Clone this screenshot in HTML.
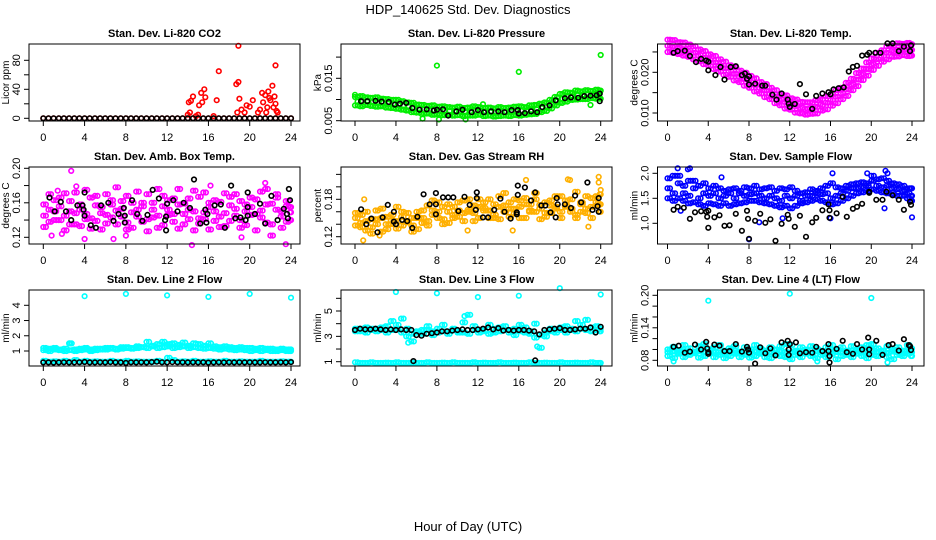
<!DOCTYPE html>
<html><head><meta charset="utf-8"><style>
html,body{margin:0;padding:0;background:#fff;}
svg{display:block;font-family:"Liberation Sans",sans-serif;}
</style></head><body>
<svg id="chart" width="936" height="540" viewBox="0 0 936 540" xmlns="http://www.w3.org/2000/svg">
<rect x="0" y="0" width="936" height="540" fill="#fff"/>
<text x="468" y="14" text-anchor="middle" font-size="13">HDP_140625  Std. Dev. Diagnostics</text>
<text x="468" y="531" text-anchor="middle" font-size="13">Hour of Day (UTC)</text>
</svg>
<script>
const hourGrid=[0,0.5,1,1.5,2,2.5,3,3.5,4,4.5,5,5.5,6,6.5,7,7.5,8,8.5,9,9.5,10,10.5,11,11.5,12,12.5,13,13.5,14,14.5,15,15.5,16,16.5,17,17.5,18,18.5,19,19.5,20,20.5,21,21.5,22,22.5,23,23.5,24];
const hourGridB=[0.25,0.75,1.25,1.75,2.25,2.75,3.25,3.75,4.25,4.75,5.25,5.75,6.25,6.75,7.25,7.75,8.25,8.75,9.25,9.75,10.25,10.75,11.25,11.75,12.25,12.75,13.25,13.75,14.25,14.75,15.25,15.75,16.25,16.75,17.25,17.75,18.25,18.75,19.25,19.75,20.25,20.75,21.25,21.75,22.25,22.75,23.25,23.75,23.9];
const xTicks=[0,4,8,12,16,20,24];
// P1 CO2
const co2Base=[0,0,0,0,0,0,0,0,0,0,0,0,0,0,0,0,0,0,0,0,0,0,0,0,0,0,0,0,0,0,0,0,0,0,0,0,0,0,0,0,0,0,0,0,0,0,0,0,0];
const co2BlackV=[0,0,0,0,0,0,0,0,0,0,0,0,0,0,0,0,0,0,0,0,0,0,0,0,0,0,0,0,0,0,0,0,0,0,0,0,0,0,0,0,0,0,0,0,0,0,0,0,0];
const co2SpikeH=[14,14.1,14.3,14.5,14.2,15,15.1,15.3,15.4,15.6,15.7,16.8,17,18.7,18.9,18.9,19,18.8,19.2,19.5,19.7,20,20.3,20.8,21,21.2,21.3,21.5,21.7,21.9,21.8,22,22.2,22.4,22.5,22.5,22.6,22.3,21.6,22.7,16.5,14.8];
const co2SpikeV=[5,22,24,30,8,5,18,35,22,40,29,25,65,47,50,100,27,8,12,8,18,16,25,8,12,35,22,32,15,28,37,25,45,30,73,20,10,15,8,8,3,3];
// P2 pressure (x1e-3 kPa)
const presMid=[9.5,9.6,9.6,9.5,9.4,9.3,9.2,9.0,8.8,8.6,8.4,8.1,7.9,7.7,7.6,7.5,7.5,7.4,7.3,7.3,7.2,7.2,7.2,7.3,7.3,7.2,7.1,7.1,7.1,7.1,7.2,7.3,7.3,7.4,7.5,7.7,8.0,8.4,8.9,9.6,10.2,10.6,10.8,11.0,11.1,11.2,11.2,11.3,11.3];
const presHi=[10.6,10.8,10.5,10.4,10.5,10.2,10.1,9.9,9.9,9.6,9.3,9.2,8.8,8.7,8.5,8.6,8.3,8.4,8.2,8.1,8.3,8.0,8.1,8.4,8.2,8.0,8.1,7.9,8.2,8.0,8.1,8.3,8.4,8.2,8.6,8.7,9.0,9.3,9.9,10.6,11.3,11.7,11.6,12.1,11.9,12.2,12.0,12.3,12.1];
const presLo=[8.6,8.4,8.7,8.5,8.3,8.4,8.1,8.0,7.8,7.6,7.4,7.0,6.9,6.6,6.7,6.4,6.5,6.3,6.4,6.2,6.3,6.1,6.2,6.2,6.4,6.1,6.2,6.0,6.1,6.2,6.1,6.3,6.2,6.4,6.5,6.6,7.0,7.3,7.9,8.6,9.2,9.5,9.9,10.0,10.1,10.1,10.3,10.2,10.2];
const presOutH=[0,8,8.2,16,24,23,12.5,6.6,10.8];
const presOutV=[11.1,18.0,5.3,16.5,20.5,8.7,8.9,5.5,5.3];
const presBlackH=[0.6,1.2,2,2.6,3.3,3.9,4.4,5,5.6,6.3,7,7.7,8,8.6,9.1,9.9,10.5,11.4,12,12.6,13.3,14,14.6,15.3,15.9,16,16.6,17.2,17.8,18.3,19,19.6,20.5,21.1,21.8,22.4,23,23.6,23.9,23.9];
const presBlackV=[9.6,9.6,9.7,9.5,9.4,8.8,9.0,9.2,8.0,7.6,7.7,7.4,7.6,7.7,6.2,7.2,7.6,7.0,7.5,7.0,7.2,7.2,7.0,7.5,7.5,6.7,6.8,7.2,7.0,8.2,8.6,9.8,10.3,10.5,10.4,10.8,10.9,11.0,11.4,9.6];
// P3 temp (x1e-3 C)
const tempMid=[26.5,26.3,26,25.7,25.3,24.8,24.2,23.6,23,22.4,21.7,21,20.3,19.6,19,18.3,17.6,16.9,16.2,15.5,14.8,14,13.3,12.7,12.2,11.7,11.3,11,11.2,11.5,12,12.5,13.2,14,14.8,15.8,17,18.2,19.5,20.8,22,23.2,24,24.8,25.2,25.5,25.6,25.6,25.5];
const tempHi=[28,27.9,27.4,27.3,26.8,26.4,25.6,25.2,24.4,24,23.2,22.6,21.7,21.2,20.4,19.9,19.1,18.5,17.6,17.1,16.2,15.6,14.7,14.3,13.6,13.3,12.7,12.6,12.6,13.1,13.4,14.1,14.6,15.6,16.2,17.4,18.4,19.8,20.9,22.4,23.4,24.8,25.4,26.4,26.6,27.1,27,27.2,26.9];
const tempLo=[25,24.8,24.5,24.1,23.8,23.2,22.7,22,21.6,20.8,20.2,19.4,18.9,18,17.6,16.7,16.2,15.3,14.8,13.9,13.4,12.4,11.9,11.1,10.8,10.1,9.9,9.6,9.8,9.9,10.6,10.9,11.8,12.4,13.4,14.2,15.6,16.6,18.1,19.2,20.6,21.6,22.6,23.2,23.8,23.9,24.2,24,24.1];
const tempBlackH=[0.6,1,1.7,2.2,2.8,3.3,3.8,4,4,4.7,5.2,5.6,6.2,6.7,7.3,7.6,7.8,8,8,8.6,9.3,9.6,10.3,10.7,11.2,11.8,11.9,12,12.5,13,13.6,14.2,14.6,15.2,15.8,16,16.3,16.8,17.3,17.8,18.2,18.6,19.1,19.6,19.8,20.4,20.9,21.6,22.1,22.7,23.2,23.8,23.9];
const tempBlackV=[24.8,25.2,25.3,24,22.5,23.3,22.9,22.6,20.5,19.3,21.3,18.2,21.3,21.5,19.3,19.7,18.4,17,19,17.2,16.7,16.7,14.5,13.3,14.8,13.3,12.3,11.5,12.2,17.1,14.6,11,14.2,14.8,15.1,14.6,15.8,16.1,16.3,20.2,21.3,21.6,24.1,24.3,24.8,24.8,24.8,27.1,27.1,25.2,26.3,25.2,26.6];
// P4 amb box temp
const ambA=[.145,.152,.163,.140,.171,.150,.135,.158,.147,.166,.139,.155,.170,.143,.151,.162,.137,.149,.173,.156,.141,.160,.145,.168,.152,.138,.158,.147,.165,.150,.142,.172,.155,.139,.161,.148,.167,.153,.140,.158,.146,.164,.151,.137,.159,.170,.144,.156,.149];
const ambB=[.132,.170,.140,.156,.128,.162,.148,.133,.175,.142,.157,.129,.146,.163,.135,.153,.168,.131,.144,.160,.127,.152,.176,.134,.146,.165,.130,.159,.141,.174,.136,.149,.129,.163,.144,.133,.157,.170,.131,.150,.166,.128,.143,.176,.135,.152,.131,.162,.140];
const ambC=[.158,.138,.150,.166,.145,.135,.172,.152,.141,.130,.168,.148,.136,.158,.178,.144,.129,.160,.152,.138,.170,.143,.131,.156,.163,.147,.176,.135,.152,.128,.167,.141,.160,.150,.132,.171,.139,.145,.162,.134,.155,.147,.173,.158,.122,.166,.150,.138,.155];
const ambOutH=[2.7,14.4,23.5,21.5,3.2,1.4,16.2,0.8,1.8,6.8,19.2,8,4];
const ambOutV=[.197,.111,.112,.183,.179,.174,.180,.122,.124,.118,.120,.122,.118];
const ambBlackH=[0.6,1.1,1.7,2.2,2.7,3.3,3.8,3.9,4,4,4.6,5.1,5.6,6.3,6.8,7.3,7.8,7.9,7.9,8.6,9.1,9.6,10.1,10.6,11.2,11.8,11.9,11.9,12,12.6,13,13.6,14.2,14.6,15.2,15.7,15.8,15.9,16.6,17.2,17.6,18.2,18.6,19.1,19.6,19.8,19.8,19.8,20.5,21,21.5,22.1,22.7,23.3,23.6,23.7,23.8,23.9];
const ambBlackV=[.166,.150,.161,.150,.140,.157,.157,.152,.172,.145,.134,.131,.157,.160,.139,.147,.154,.145,.137,.163,.147,.139,.146,.175,.165,.140,.128,.144,.159,.163,.150,.160,.154,.187,.136,.152,.137,.147,.157,.158,.131,.180,.142,.143,.140,.155,.145,.172,.147,.159,.136,.168,.140,.153,.147,.142,.176,.163];
// P5 gas stream RH
const rhA=[.150,.142,.160,.135,.148,.165,.140,.155,.145,.138,.158,.150,.132,.162,.170,.155,.175,.148,.160,.168,.152,.178,.163,.158,.180,.166,.150,.172,.185,.160,.175,.157,.168,.182,.162,.190,.171,.158,.178,.165,.185,.170,.160,.192,.175,.165,.182,.170,.188];
const rhB=[.138,.155,.130,.148,.162,.128,.152,.140,.133,.160,.145,.128,.150,.142,.138,.162,.150,.168,.142,.155,.175,.145,.160,.170,.150,.162,.180,.155,.148,.170,.152,.165,.178,.150,.172,.160,.148,.175,.158,.168,.150,.178,.165,.155,.160,.185,.150,.175,.160];
const rhC=[.158,.135,.145,.125,.140,.150,.132,.146,.168,.152,.143,.138,.160,.150,.145,.178,.160,.140,.172,.150,.162,.158,.180,.145,.168,.175,.162,.150,.168,.190,.165,.180,.150,.172,.160,.180,.165,.152,.170,.185,.160,.168,.180,.150,.172,.158,.168,.185,.172];
const rhOutH=[0.8,0.9,16.7,20.8,21,23.8,23.8,24,15.4,11,22.8,2.4];
const rhOutV=[.114,.180,.211,.212,.211,.216,.207,.195,.130,.130,.136,.122];
const rhBlackH=[0.6,1.1,1.6,2.2,2.7,3.2,3.8,3.8,4,4.6,5.1,5.6,6.1,6.7,7.3,7.9,7.9,7.9,8.6,9.1,9.6,10.1,10.7,11.2,11.8,11.9,11.9,12.5,13,13.6,14.2,14.6,15.2,15.8,15.8,15.9,15.9,16.6,17.2,17.6,18.2,18.6,19.1,19.6,19.7,19.8,20.5,21.1,21.5,22.1,22.7,23.2,23.7,23.8,23.8];
const rhBlackV=[.164,.140,.149,.127,.151,.171,.160,.144,.140,.147,.145,.134,.152,.188,.172,.172,.156,.190,.183,.183,.183,.161,.184,.171,.163,.191,.182,.151,.151,.163,.181,.160,.149,.156,.159,.187,.202,.199,.178,.191,.170,.170,.159,.151,.182,.172,.172,.166,.186,.175,.207,.163,.169,.160,.182];
// P6 sample flow
const sfUp=[1.9,1.95,1.8,1.75,1.85,1.7,1.75,1.8,1.7,1.75,1.7,1.65,1.68,1.7,1.65,1.72,1.7,1.75,1.68,1.7,1.72,1.65,1.7,1.68,1.72,1.65,1.6,1.62,1.68,1.65,1.7,1.75,1.8,1.72,1.7,1.75,1.78,1.8,1.82,1.8,1.85,1.88,1.9,1.85,1.8,1.78,1.75,1.7,1.7];
const sfLo=[1.5,1.45,1.5,1.45,1.4,1.42,1.38,1.35,1.4,1.38,1.35,1.4,1.35,1.38,1.4,1.42,1.45,1.45,1.42,1.4,1.38,1.35,1.32,1.35,1.3,1.35,1.4,1.42,1.45,1.48,1.45,1.42,1.38,1.4,1.45,1.5,1.55,1.6,1.62,1.65,1.68,1.65,1.62,1.6,1.58,1.55,1.55,1.5,1.45];
const sfMid=[1.7,1.6,1.95,1.6,1.55,1.85,1.5,1.6,1.55,1.6,1.5,1.55,1.6,1.5,1.6,1.55,1.58,1.6,1.55,1.5,1.55,1.5,1.45,1.55,1.5,1.55,1.45,1.55,1.55,1.6,1.58,1.6,1.5,1.55,1.6,1.65,1.7,1.7,1.72,1.75,1.95,1.75,1.72,1.75,1.7,1.68,1.65,1.6,1.55];
const sfOutH=[2,2.2,1,1.3,21.4,21.6,21.3,9,11.3,24,8,16,5.3,19.6,16.2];
const sfOutV=[2.08,2.1,2.1,1.25,2.05,2.0,1.3,1.02,1.1,1.12,0.68,1.1,1.92,2.0,2.0];
const sfBlackH=[0.6,1,1.6,2.2,2.7,3.3,3.8,3.9,4,4,4.6,5.1,5.6,6.1,6.7,7.3,7.8,7.9,8,8.6,9.1,9.6,10.1,10.6,11.2,11.8,11.9,12.5,13,13.6,14.2,14.6,15.2,15.8,15.9,15.9,16.6,17.2,17.6,18.2,18.6,19.1,19.8,19.8,20.5,21.1,21.5,22.1,22.7,23.2,23.8,23.9];
const sfBlackV=[1.27,1.33,1.31,1.09,1.22,1.24,1.23,1.13,0.91,1.25,1.12,1.16,0.95,0.96,1.19,0.85,1.25,1.09,0.69,1.05,1.19,1.01,1.08,0.65,0.99,1.17,1.09,0.93,1.15,0.73,1.02,1.11,1.26,1.38,1.11,1.26,1.2,1.53,1.13,1.29,1.33,1.39,1.61,1.63,1.47,1.47,1.63,1.56,1.47,1.27,1.43,1.37];
// P7 line 2 flow
const l2A=[1.2,1.15,1.2,1.1,1.15,1.5,1.1,1.15,1.2,1.1,1.15,1.15,1.2,1.2,1.15,1.25,1.25,1.2,1.3,1.25,1.6,1.35,1.45,1.6,1.45,1.5,1.4,1.55,1.35,1.5,1.45,1.35,1.5,1.3,1.25,1.3,1.25,1.2,1.25,1.2,1.2,1.15,1.2,1.15,1.15,1.1,1.15,1.1,1.1];
const l2B=[1.05,1.0,1.1,1.05,1.0,1.05,1.0,1.05,1.1,1.0,1.05,1.1,1.1,1.15,1.1,1.15,1.2,1.15,1.2,1.25,1.2,1.3,1.2,1.25,1.3,1.2,1.25,1.3,1.2,1.25,1.2,1.15,1.2,1.15,1.1,1.15,1.1,1.05,1.1,1.05,1.0,1.05,1.0,1.05,1.0,1.0,1.05,1.0,1.0];
const l2Low=[0.35,0.3,0.32,0.3,0.35,0.3,0.4,0.3,0.35,0.3,0.32,0.3,0.3,0.35,0.3,0.3,0.35,0.3,0.32,0.3,0.3,0.3,0.35,0.3,0.55,0.4,0.3,0.32,0.3,0.35,0.3,0.3,0.32,0.3,0.3,0.35,0.3,0.3,0.32,0.3,0.3,0.3,0.35,0.3,0.3,0.3,0.32,0.3,0.3];
const l2BlackV=[0.25,0.25,0.24,0.25,0.26,0.25,0.25,0.26,0.28,0.25,0.25,0.26,0.25,0.27,0.25,0.25,0.22,0.26,0.25,0.26,0.25,0.27,0.3,0.26,0.25,0.27,0.26,0.26,0.25,0.26,0.25,0.26,0.24,0.25,0.26,0.25,0.26,0.25,0.26,0.25,0.26,0.25,0.25,0.26,0.25,0.25,0.26,0.25,0.27];
const l2OutH=[4,8,12,16,20,24,2.6];
const l2OutV=[4.6,4.75,4.65,4.55,4.75,4.5,1.5];
// P8 line 3 flow
const l3A=[3.4,3.6,3.7,3.5,3.6,3.5,3.8,4.2,3.9,4.4,3.6,3.2,3.3,3.5,3.8,3.4,3.6,3.9,3.4,3.5,3.3,4.1,4.7,3.8,3.5,3.4,3.9,3.6,3.7,3.8,3.5,3.6,3.9,3.7,3.4,4.0,3.1,3.3,3.6,3.5,3.7,3.8,3.6,4.2,3.9,4.3,3.7,3.8,3.6];
const l3B=[3.6,3.4,3.3,3.6,3.4,3.7,3.3,3.5,3.6,3.3,3.0,2.6,3.4,3.2,3.5,3.1,3.3,3.4,3.2,3.6,3.4,3.3,3.2,3.5,3.3,3.5,3.2,3.3,3.4,3.5,3.3,3.1,3.4,3.3,3.2,2.9,2.1,3.0,3.4,3.3,3.5,3.3,3.5,3.4,3.6,3.5,3.4,3.5,3.4];
const l3Low=[0.95,0.9,0.9,0.95,0.9,0.9,0.92,0.9,0.95,0.9,0.9,0.92,0.9,0.9,0.95,0.9,0.9,0.92,0.9,0.95,0.9,0.9,0.9,0.95,0.9,0.92,0.9,0.9,0.95,0.9,0.9,0.92,0.9,0.9,0.95,0.9,0.9,0.92,0.9,0.9,0.95,0.9,0.9,0.92,0.9,0.9,0.95,0.9,0.9];
const l3BlackV=[3.5,3.6,3.55,3.55,3.6,3.55,3.5,3.55,3.5,3.55,3.5,3.5,3.1,3.05,3.2,3.25,3.3,3.4,3.4,3.45,3.5,3.55,3.5,3.5,3.55,3.6,3.7,3.55,3.65,3.45,3.5,3.45,3.5,3.5,3.45,3.4,3.15,3.5,3.55,3.6,3.65,3.5,3.5,3.55,3.6,3.6,3.7,3.3,3.75];
const l3OutH=[4,8,12,16,20,24,10.7,5.2,17.8];
const l3OutV=[6.5,6.4,6.1,6.2,6.8,6.3,4.6,2.5,2.2];
const l3BlackExH=[5.7,17.6];
const l3BlackExV=[1.05,1.1];
// P9 line 4 flow
const l4A=[.100,.105,.098,.108,.102,.096,.106,.110,.100,.104,.108,.098,.102,.106,.096,.104,.100,.108,.102,.098,.104,.100,.106,.110,.108,.098,.104,.100,.106,.102,.098,.104,.108,.100,.104,.098,.106,.100,.104,.108,.110,.102,.098,.106,.100,.104,.098,.108,.102];
const l4B=[.088,.084,.092,.086,.090,.094,.085,.088,.092,.086,.090,.084,.088,.092,.086,.090,.085,.088,.092,.086,.084,.090,.088,.086,.082,.090,.086,.092,.088,.084,.090,.086,.092,.082,.088,.090,.086,.092,.088,.084,.090,.088,.092,.086,.082,.090,.088,.092,.088];
const l4C=[.095,.096,.094,.097,.095,.093,.097,.095,.094,.096,.095,.093,.097,.095,.094,.096,.095,.097,.094,.096,.095,.093,.097,.095,.094,.096,.095,.097,.094,.096,.095,.093,.097,.095,.094,.096,.095,.097,.094,.096,.099,.095,.097,.094,.096,.095,.093,.097,.095];
const l4OutH=[4,12,20,0.6,14.7,21.6];
const l4OutV=[.190,.203,.195,.078,.078,.076];
const l4BlackH=[0.6,1.1,1.7,2.2,2.7,3.3,3.8,3.9,4,4,4.6,5.1,5.6,6.1,6.7,7.3,7.8,7.9,8,8.6,9.1,9.6,10.1,10.6,11.2,11.8,11.9,11.9,12,12.6,13,13.6,14.2,14.6,15.2,15.8,15.8,15.9,15.9,16.6,17.2,17.6,18.2,18.6,19.1,19.7,19.8,19.8,20.5,21.1,21.7,22.1,22.7,23.2,23.7,23.8,23.9];
const l4BlackV=[.105,.107,.094,.096,.109,.100,.114,.102,.095,.092,.109,.107,.097,.097,.110,.096,.105,.100,.094,.074,.104,.093,.102,.089,.113,.116,.100,.090,.110,.113,.093,.095,.094,.105,.097,.110,.097,.088,.076,.101,.116,.095,.092,.110,.100,.122,.100,.091,.116,.090,.108,.110,.098,.119,.108,.106,.099];

const NS="http://www.w3.org/2000/svg";
const svg=document.getElementById('chart');
function mk(tag,attrs,parent){const e=document.createElementNS(NS,tag);for(const k in attrs)e.setAttribute(k,attrs[k]);(parent||svg).appendChild(e);return e;}

const cols=[{l:29,r:300,x0:43.3,x24:291},{l:341,r:612,x0:355,x24:600.7},{l:657.5,r:924,x0:667.5,x24:912}];
const rows=[{t:44,b:121},{t:167,b:244},{t:290,b:366}];

const panels=[
 {c:0,r:0,name:'co2',title:'Stan. Dev. Li-820 CO2',ylab:'Licor ppm',v0:0,p0:118.3,v1:80,p1:60.3,ticks:[0,20,40,60,80],labels:[0,40,80],fmt:v=>String(v),
  series:[{h:hourGrid,v:co2Base,c:'#ff0000'},{h:co2SpikeH,v:co2SpikeV,c:'#ff0000'},{h:hourGrid,v:co2BlackV,c:'#000'}]},
 {c:1,r:0,name:'pressure',title:'Stan. Dev. Li-820 Pressure',ylab:'kPa',v0:5,p0:120.7,v1:15,p1:78.3,ticks:[5,10,15,20],labels:[5,15],fmt:v=>(v/1000).toFixed(3),
  series:[{h:hourGridB,v:presHi,c:'#00ee00'},{h:hourGrid,v:presHi,c:'#00ee00'},{h:hourGridB,v:presLo,c:'#00ee00'},{h:hourGrid,v:presLo,c:'#00ee00'},{h:hourGridB,v:presMid,c:'#00ee00'},{h:presOutH,v:presOutV,c:'#00ee00'},{h:presBlackH,v:presBlackV,c:'#000'}]},
 {c:2,r:0,name:'li820-temp',title:'Stan. Dev. Li-820 Temp.',ylab:'degrees C',v0:10,p0:113,v1:20,p1:72.3,ticks:[10,15,20,25],labels:[10,20],fmt:v=>(v/1000).toFixed(3),
  series:[{h:hourGridB,v:tempHi,c:'#ff00ff'},{h:hourGrid,v:tempHi,c:'#ff00ff'},{h:hourGridB,v:tempLo,c:'#ff00ff'},{h:hourGrid,v:tempLo,c:'#ff00ff'},{h:hourGridB,v:tempMid,c:'#ff00ff'},{h:hourGrid,v:tempMid,c:'#ff00ff'},{h:tempBlackH,v:tempBlackV,c:'#000'}]},
 {c:0,r:1,name:'amb-box-temp',title:'Stan. Dev. Amb. Box Temp.',ylab:'degrees C',v0:0.12,p0:237.3,v1:0.20,p1:168.3,ticks:[0.12,0.14,0.16,0.18,0.20],labels:[0.12,0.16,0.20],fmt:v=>v.toFixed(2),
  series:[{h:hourGrid,v:ambA,c:'#ff00ff'},{h:hourGridB,v:ambB,c:'#ff00ff'},{h:hourGrid,v:ambC,c:'#ff00ff'},{h:hourGridB,v:ambA,c:'#ff00ff'},{h:hourGrid,v:ambB,c:'#ff00ff'},{h:hourGridB,v:ambC,c:'#ff00ff'},{h:ambOutH,v:ambOutV,c:'#ff00ff'},{h:ambBlackH,v:ambBlackV,c:'#000'}]},
 {c:1,r:1,name:'gas-stream-rh',title:'Stan. Dev. Gas Stream RH',ylab:'percent',v0:0.12,p0:236.7,v1:0.18,p1:199.3,ticks:[0.12,0.14,0.16,0.18,0.20,0.22],labels:[0.12,0.18],fmt:v=>v.toFixed(2),
  series:[{h:hourGrid,v:rhA,c:'#ffb000'},{h:hourGridB,v:rhB,c:'#ffb000'},{h:hourGrid,v:rhC,c:'#ffb000'},{h:hourGridB,v:rhA,c:'#ffb000'},{h:hourGrid,v:rhB,c:'#ffb000'},{h:hourGridB,v:rhC,c:'#ffb000'},{h:rhOutH,v:rhOutV,c:'#ffb000'},{h:rhBlackH,v:rhBlackV,c:'#000'}]},
 {c:2,r:1,name:'sample-flow',title:'Stan. Dev. Sample Flow',ylab:'ml/min',v0:1,p0:223.3,v1:2,p1:173.3,ticks:[1,1.5,2],labels:[1,1.5,2],fmt:v=>v.toFixed(1),
  series:[{h:hourGrid,v:sfUp,c:'#0000ff'},{h:hourGridB,v:sfUp,c:'#0000ff'},{h:hourGrid,v:sfLo,c:'#0000ff'},{h:hourGridB,v:sfLo,c:'#0000ff'},{h:hourGrid,v:sfMid,c:'#0000ff'},{h:hourGridB,v:sfMid,c:'#0000ff'},{h:sfOutH,v:sfOutV,c:'#0000ff'},{h:sfBlackH,v:sfBlackV,c:'#000'}]},
 {c:0,r:2,name:'line2-flow',title:'Stan. Dev. Line 2 Flow',ylab:'ml/min',v0:1,p0:351,v1:4,p1:305.3,ticks:[1,2,3,4],labels:[1,2,3,4],fmt:v=>String(v),
  series:[{h:hourGrid,v:l2A,c:'#00ffff'},{h:hourGridB,v:l2A,c:'#00ffff'},{h:hourGrid,v:l2B,c:'#00ffff'},{h:hourGridB,v:l2B,c:'#00ffff'},{h:hourGrid,v:l2Low,c:'#00ffff'},{h:hourGridB,v:l2Low,c:'#00ffff'},{h:l2OutH,v:l2OutV,c:'#00ffff'},{h:hourGrid,v:l2BlackV,c:'#000'}]},
 {c:1,r:2,name:'line3-flow',title:'Stan. Dev. Line 3 Flow',ylab:'ml/min',v0:1,p0:361.7,v1:5,p1:311,ticks:[1,2,3,4,5,6],labels:[1,3,5],fmt:v=>String(v),
  series:[{h:hourGrid,v:l3A,c:'#00ffff'},{h:hourGridB,v:l3A,c:'#00ffff'},{h:hourGrid,v:l3B,c:'#00ffff'},{h:hourGridB,v:l3B,c:'#00ffff'},{h:hourGrid,v:l3Low,c:'#00ffff'},{h:hourGridB,v:l3Low,c:'#00ffff'},{h:l3OutH,v:l3OutV,c:'#00ffff'},{h:hourGrid,v:l3BlackV,c:'#000'},{h:l3BlackExH,v:l3BlackExV,c:'#000'}]},
 {c:2,r:2,name:'line4-flow',title:'Stan. Dev. Line 4 (LT) Flow',ylab:'ml/min',v0:0.08,p0:360.3,v1:0.20,p1:295.3,ticks:[0.08,0.10,0.12,0.14,0.16,0.18,0.20],labels:[0.08,0.14,0.20],fmt:v=>v.toFixed(2),
  series:[{h:hourGrid,v:l4A,c:'#00ffff'},{h:hourGridB,v:l4A,c:'#00ffff'},{h:hourGrid,v:l4B,c:'#00ffff'},{h:hourGridB,v:l4B,c:'#00ffff'},{h:hourGrid,v:l4C,c:'#00ffff'},{h:hourGridB,v:l4C,c:'#00ffff'},{h:l4OutH,v:l4OutV,c:'#00ffff'},{h:l4BlackH,v:l4BlackV,c:'#000'}]}
];

panels.forEach(p=>{
  const col=cols[p.c],row=rows[p.r];
  const xs=h=>col.x0+(h/24)*(col.x24-col.x0);
  const ys=v=>p.p0+(v-p.v0)*(p.p1-p.p0)/(p.v1-p.v0);
  const g=mk('g',{});
  
  
  const t=mk('text',{x:(col.l+col.r)/2,y:row.t-7,'text-anchor':'middle','font-size':'11','font-weight':'bold'},g);
  t.textContent=p.title;
  
  
  const pg=mk('g',{},g);
  
  
  p.series.forEach(s=>{
    for(let i=0;i<s.h.length;i++){
      const ci=mk('circle',{cx:xs(s.h[i]).toFixed(1),cy:ys(s.v[i]).toFixed(1),r:2.3,fill:'none',stroke:s.c,'stroke-width':1.6},pg);
      
      
    }
  });
  const bx=mk('rect',{x:col.l,y:row.t,width:col.r-col.l,height:row.b-row.t,fill:'none',stroke:'#000','stroke-width':1},g);
  
  
  xTicks.forEach(h=>{
    const x=xs(h);
    const tk=mk('line',{x1:x,x2:x,y1:row.b,y2:row.b+5,stroke:'#000'},g);
    
    
    const lb=mk('text',{x:x,y:row.b+20,'text-anchor':'middle','font-size':'11'},g);
    lb.textContent=String(h);
    
    
  });
  p.ticks.forEach(v=>{
    const y=ys(v);
    const tk=mk('line',{x1:col.l-5,x2:col.l,y1:y,y2:y,stroke:'#000'},g);
    
    
  });
  p.labels.forEach(v=>{
    const y=ys(v),x=col.l-9;
    const lb=mk('text',{x:x,y:y,'text-anchor':'middle','font-size':'11',transform:`rotate(-90 ${x} ${y})`},g);
    lb.textContent=p.fmt(v);
    
    
  });
  const yx=col.l-20,yy=(row.t+row.b)/2;
  const yt=mk('text',{x:yx,y:yy,'text-anchor':'middle','font-size':'10',transform:`rotate(-90 ${yx} ${yy})`},g);
  yt.textContent=p.ylab;
  
  
});
</script>
</body></html>
